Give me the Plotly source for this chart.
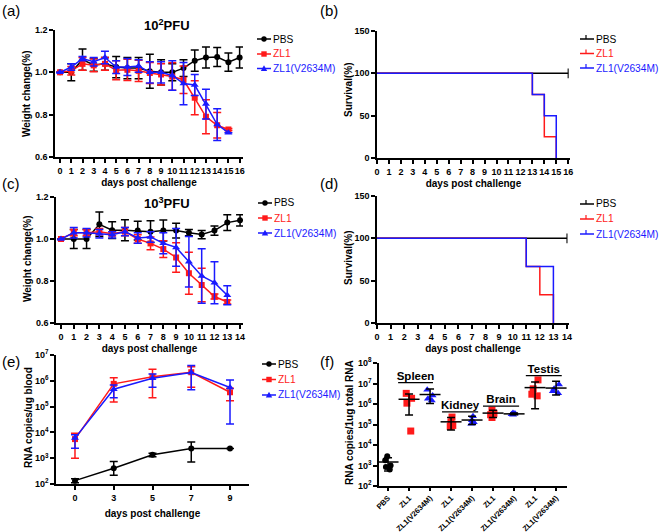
import plotly.graph_objects as go

W, H = 660, 532
FONT = "Liberation Sans, Arial, sans-serif"
RED = "#ff1a1a"
BLUE = "#1a1aff"
BLACK = "#000000"

# ---------------- (a) weight change, 10^2 PFU ----------------
days_a_pbs = list(range(17))
pbs_a = [1.00, 1.00, 1.06, 1.035, 1.04, 1.025, 1.02, 1.02, 1.005, 1.00, 1.00, 1.02, 1.055, 1.07, 1.072, 1.048, 1.07]
pbs_a_sd = [0.0, 0.04, 0.05, 0.03, 0.03, 0.05, 0.05, 0.05, 0.08, 0.06, 0.04, 0.04, 0.05, 0.05, 0.045, 0.043, 0.05]
days_a_inf = list(range(16))
zl1_a = [1.00, 1.007, 1.04, 1.033, 1.04, 1.01, 1.012, 1.007, 0.997, 0.99, 0.98, 0.965, 0.88, 0.79, 0.75, 0.73]
zl1_a_sd = [0.0, 0.02, 0.03, 0.03, 0.03, 0.045, 0.05, 0.05, 0.05, 0.05, 0.065, 0.065, 0.08, 0.08, 0.06, 0.005]
v_a = [1.00, 1.025, 1.065, 1.05, 1.07, 1.025, 1.025, 1.03, 1.0, 1.0, 0.985, 0.947, 0.94, 0.85, 0.753, 0.715]
v_a_sd = [0.0, 0.015, 0.01, 0.02, 0.03, 0.03, 0.04, 0.03, 0.05, 0.05, 0.07, 0.1, 0.05, 0.07, 0.075, 0.0]

# ---------------- (b) survival, 10^2 PFU ----------------
surv_b_pbs_days = [0, 16]
surv_b_pbs = [100, 100]
surv_b_zl1_days = [0, 13, 14, 15]
surv_b_zl1 = [100, 75, 25, 0]
surv_b_v_days = [0, 13, 14, 15]
surv_b_v = [100, 75, 50, 0]

# ---------------- (c) weight change, 10^3 PFU ----------------
days_c_pbs = list(range(15))
pbs_c = [1.0, 1.0, 1.0, 1.07, 1.042, 1.042, 1.04, 1.035, 1.04, 1.04, 1.03, 1.021, 1.04, 1.078, 1.089]
pbs_c_sd = [0.0, 0.045, 0.045, 0.058, 0.04, 0.05, 0.045, 0.052, 0.05, 0.035, 0.015, 0.02, 0.022, 0.037, 0.027]
days_c_inf = list(range(14))
zl1_c = [1.0, 1.03, 1.03, 1.035, 1.025, 1.035, 1.0, 0.979, 0.952, 0.912, 0.837, 0.781, 0.726, 0.70]
zl1_c_sd = [0.0, 0.015, 0.015, 0.015, 0.01, 0.02, 0.02, 0.03, 0.04, 0.07, 0.1, 0.08, 0.012, 0.01]
v_c = [1.0, 1.03, 1.03, 1.025, 1.02, 1.035, 1.005, 1.01, 0.98, 0.96, 0.892, 0.824, 0.792, 0.732]
v_c_sd = [0.0, 0.025, 0.02, 0.02, 0.015, 0.02, 0.025, 0.025, 0.05, 0.09, 0.12, 0.13, 0.1, 0.045]

# ---------------- (d) survival, 10^3 PFU ----------------
surv_d_pbs_days = [0, 14]
surv_d_pbs = [100, 100]
surv_d_zl1_days = [0, 11, 12, 13]
surv_d_zl1 = [100, 66.7, 33.3, 0]
surv_d_v_days = [0, 11, 13]
surv_d_v = [100, 66.7, 0]

# ---------------- (e) RNA copies in blood ----------------
days_e = ["0", "3", "5", "7", "9"]
pbs_e = [135, 410, 1350, 2400, 2400]
pbs_e_hi = [160, 740, 1550, 4200, 2400]
pbs_e_lo = [112, 220, 1150, 720, 2400]
zl1_e = [5500, 7.6e5, 1.45e6, 2.15e6, 3.6e5]
zl1_e_hi = [9300, 1.3e6, 2.8e6, 3.5e6, 5.2e5]
zl1_e_lo = [1000, 1.5e5, 2.2e5, 5.6e5, 1.7e5]
v_e = [6000, 4.7e5, 1.25e6, 2.1e6, 5.5e5]
v_e_hi = [8100, 6.9e5, 1.85e6, 3.9e6, 1.07e6]
v_e_lo = [2450, 2.2e5, 5.6e5, 4.5e5, 2.1e4]

# ---------------- (f) RNA copies in tissues ----------------
f_labels = ["PBS", "ZL1", "ZL1(V2634M)", "ZL1", "ZL1(V2634M)", "ZL1", "ZL1(V2634M)", "ZL1", "ZL1(V2634M)"]
tissues = ["Spleen", "Kidney", "Brain", "Testis"]
pbs_f = [2800, 1800, 1000, 850, 630]
zl1_f = [[3.3e6, 1.9e6, 1.1e6, 4.8e4],
         [2.3e5, 1.3e5, 9.0e4, 8.0e4],
         [5.0e5, 3.5e5, 3.0e5, 2.2e5],
         [1.5e7, 5.5e6, 3.0e6, 2.5e6]]
v_f = [[5.0e6, 2.6e6, 1.8e6, 1.5e6],
       [2.5e5, 1.6e5, 1.3e5, 1.1e5],
       [3.6e5, 3.4e5, 3.2e5, 3.0e5],
       [9.0e6, 5.5e6, 4.2e6, 3.3e6]]
f_mean = [1480, 1.7e6, 2.9e6, 1.35e5, 1.65e5, 3.6e5, 3.3e5, 6.3e6, 6.0e6]
f_hi = [2400, 3.1e6, 5.4e6, 2.2e5, 2.5e5, 4.9e5, 3.6e5, 1.2e7, 1.3e7]
f_lo = [540, 2.9e5, 1.07e6, 5.4e4, 1.0e5, 2.2e5, 3.0e5, 5.8e5, 2.75e6]
tissue_bar_x = [[0.48, 2.14], [2.57, 4.29], [4.52, 6.24], [6.56, 8.27]]
tissue_bar_y = [1.1e7, 4.1e5, 7.9e5, 2.4e7]

series_names = ["PBS", "ZL1", "ZL1(V2634M)"]
series_colors = [BLACK, RED, BLUE]


def px_x(p):
    return p / W


def px_y(p):
    return 1 - p / H


fig = go.Figure()


def err(sd, color):
    return dict(type="data", array=sd, color=color, thickness=1.5, width=4, visible=True)


def weight_traces(xa, ya, xp, yp, sdp, xi, yz, sdz, yv, sdv):
    fig.add_trace(go.Scatter(x=xp, y=yp, mode="lines+markers", name=series_names[0],
                             line=dict(color=BLACK, width=1.5), marker=dict(symbol="circle", size=6, color=BLACK),
                             error_y=err(sdp, BLACK), xaxis=xa, yaxis=ya))
    fig.add_trace(go.Scatter(x=xi, y=yz, mode="lines+markers", name=series_names[1],
                             line=dict(color=RED, width=1.5), marker=dict(symbol="square", size=6, color=RED),
                             error_y=err(sdz, RED), xaxis=xa, yaxis=ya))
    fig.add_trace(go.Scatter(x=xi, y=yv, mode="lines+markers", name=series_names[2],
                             line=dict(color=BLUE, width=1.5), marker=dict(symbol="triangle-up", size=7, color=BLUE),
                             error_y=err(sdv, BLUE), xaxis=xa, yaxis=ya))


def survival_traces(xa, ya, xp, yp, xz, yz, xv, yv):
    fig.add_trace(go.Scatter(x=xp, y=yp, mode="lines+markers", name=series_names[0],
                             line=dict(color=BLACK, width=1.5, shape="hv"),
                             marker=dict(symbol="line-ns", size=[0, 7], line=dict(color=BLACK, width=1.5)),
                             xaxis=xa, yaxis=ya))
    fig.add_trace(go.Scatter(x=xz, y=yz, mode="lines", name=series_names[1],
                             line=dict(color=RED, width=1.5, shape="hv"), xaxis=xa, yaxis=ya))
    fig.add_trace(go.Scatter(x=xv, y=yv, mode="lines", name=series_names[2],
                             line=dict(color=BLUE, width=1.5, shape="hv"), xaxis=xa, yaxis=ya))


weight_traces("x", "y", days_a_pbs, pbs_a, pbs_a_sd, days_a_inf, zl1_a, zl1_a_sd, v_a, v_a_sd)
survival_traces("x2", "y2", surv_b_pbs_days, surv_b_pbs, surv_b_zl1_days, surv_b_zl1, surv_b_v_days, surv_b_v)
weight_traces("x3", "y3", days_c_pbs, pbs_c, pbs_c_sd, days_c_inf, zl1_c, zl1_c_sd, v_c, v_c_sd)
survival_traces("x4", "y4", surv_d_pbs_days, surv_d_pbs, surv_d_zl1_days, surv_d_zl1, surv_d_v_days, surv_d_v)


# (e)
def asym(mean, hi, lo, color):
    return dict(type="data", symmetric=False,
                array=[h - m for h, m in zip(hi, mean)],
                arrayminus=[m - l for m, l in zip(mean, lo)],
                color=color, thickness=1.5, width=4)


fig.add_trace(go.Scatter(x=days_e, y=pbs_e, mode="lines+markers", name=series_names[0],
                         line=dict(color=BLACK, width=1.5), marker=dict(symbol="circle", size=6, color=BLACK),
                         error_y=asym(pbs_e, pbs_e_hi, pbs_e_lo, BLACK), xaxis="x5", yaxis="y5"))
fig.add_trace(go.Scatter(x=days_e, y=zl1_e, mode="lines+markers", name=series_names[1],
                         line=dict(color=RED, width=1.5), marker=dict(symbol="square", size=6, color=RED),
                         error_y=asym(zl1_e, zl1_e_hi, zl1_e_lo, RED), xaxis="x5", yaxis="y5"))
fig.add_trace(go.Scatter(x=days_e, y=v_e, mode="lines+markers", name=series_names[2],
                         line=dict(color=BLUE, width=1.5), marker=dict(symbol="triangle-up", size=7, color=BLUE),
                         error_y=asym(v_e, v_e_hi, v_e_lo, BLUE), xaxis="x5", yaxis="y5"))

# (f) individual points
pbs_x = [0] * len(pbs_f)
zl1_x, zl1_y, v_x, v_y = [], [], [], []
for i, (zs, vs) in enumerate(zip(zl1_f, v_f)):
    zl1_x += [1 + 2 * i] * len(zs)
    zl1_y += zs
    v_x += [2 + 2 * i] * len(vs)
    v_y += vs


def points(xs, ys, color, symbol, size):
    fig.add_trace(go.Box(x=xs, y=ys, boxpoints="all", jitter=0.7, pointpos=0, width=0.45,
                         fillcolor="rgba(0,0,0,0)", line=dict(color="rgba(0,0,0,0)", width=0),
                         whiskerwidth=0, marker=dict(color=color, symbol=symbol, size=size),
                         hoverinfo="skip", xaxis="x6", yaxis="y6"))


points(pbs_x, pbs_f, BLACK, "circle", 6)
points(zl1_x, zl1_y, RED, "square", 7)
points(v_x, v_y, BLUE, "triangle-up", 7)

fig.add_trace(go.Scatter(x=list(range(len(f_labels))), y=f_mean, mode="markers",
                         marker=dict(symbol="line-ew", size=15, color=BLACK, line=dict(color=BLACK, width=1.5)),
                         error_y=dict(type="data", symmetric=False,
                                      array=[h - m for h, m in zip(f_hi, f_mean)],
                                      arrayminus=[m - l for m, l in zip(f_mean, f_lo)],
                                      color=BLACK, thickness=1.5, width=4),
                         xaxis="x6", yaxis="y6"))

for name, bx, by in zip(tissues, tissue_bar_x, tissue_bar_y):
    fig.add_trace(go.Scatter(x=bx, y=[by, by], mode="lines", line=dict(color=BLACK, width=1.2),
                             hoverinfo="skip", xaxis="x6", yaxis="y6"))
    fig.add_trace(go.Scatter(x=[(bx[0] + bx[1]) / 2], y=[by], mode="text", text=[name],
                             textposition="top center",
                             textfont=dict(family=FONT, size=11.5, color=BLACK, weight="bold"),
                             hoverinfo="skip", xaxis="x6", yaxis="y6"))

# ---------------- axes ----------------
TICKFONT = dict(family=FONT, size=9, color=BLACK, weight="bold")
TITLEFONT = dict(family=FONT, size=10, color=BLACK, weight="bold")


def base_axis(**kw):
    d = dict(showline=True, linecolor=BLACK, linewidth=1.5, ticks="outside", ticklen=4, tickwidth=1.5,
             tickcolor=BLACK, showgrid=False, zeroline=False, tickfont=TICKFONT, mirror=False,
             fixedrange=True, automargin=False)
    d.update(kw)
    return d


def xtitle(t, s=4):
    return dict(text=t, font=TITLEFONT, standoff=s)


weight_ticks = dict(tickvals=[0.6, 0.8, 1.0, 1.2], ticktext=["0.6", "0.8", "1.0", "1.2"])
surv_ticks = dict(tickvals=[0, 50, 100, 150])

layout = dict(
    width=W, height=H, autosize=False,
    margin=dict(l=0, r=0, t=0, b=0),
    paper_bgcolor="white", plot_bgcolor="white",
    font=dict(family=FONT, color=BLACK),
    showlegend=False,
    boxmode="overlay",
    xaxis=base_axis(domain=[px_x(55), px_x(243)], range=[-0.45, 16.3], tickvals=days_a_pbs, tickangle=0,
                    title=xtitle("days post challenge"), anchor="y"),
    yaxis=base_axis(domain=[px_y(157), px_y(30)], range=[0.6, 1.2], anchor="x", **weight_ticks),
    xaxis2=base_axis(domain=[px_x(377), px_x(570)], range=[0, 16.15], tickvals=days_a_pbs, tickangle=0,
                     title=xtitle("days post challenge"), anchor="y2"),
    yaxis2=base_axis(domain=[px_y(158), px_y(31)], range=[0, 150], anchor="x2", **surv_ticks),
    xaxis3=base_axis(domain=[px_x(56), px_x(243)], range=[-0.39, 14.23], tickvals=days_c_pbs, tickangle=0,
                     title=xtitle("days post challenge"), anchor="y3"),
    yaxis3=base_axis(domain=[px_y(323), px_y(197)], range=[0.6, 1.2], anchor="x3", **weight_ticks),
    xaxis4=base_axis(domain=[px_x(377), px_x(569)], range=[0, 14.15], tickvals=days_c_pbs, tickangle=0,
                     title=xtitle("days post challenge"), anchor="y4"),
    yaxis4=base_axis(domain=[px_y(323), px_y(196)], range=[0, 150], anchor="x4", **surv_ticks),
    xaxis5=base_axis(domain=[px_x(56), px_x(249)], range=[-0.49, 4.49], type="category", tickangle=0,
                     title=xtitle("days post challenge", 8), anchor="y5"),
    yaxis5=base_axis(domain=[px_y(484), px_y(355)], type="log", range=[2, 7],
                     tickvals=[10 ** k for k in range(2, 8)],
                     ticktext=["10<sup>%d</sup>" % k for k in range(2, 8)], anchor="x5"),
    xaxis6=base_axis(domain=[px_x(379), px_x(567)], range=[-0.43, 8.52],
                     tickvals=list(range(len(f_labels))), ticktext=f_labels, tickangle=-45, ticklen=3,
                     tickfont=dict(family=FONT, size=7.6, color=BLACK, weight="bold"), anchor="y6"),
    yaxis6=base_axis(domain=[px_y(486), px_y(363)], type="log", range=[2, 8],
                     tickvals=[10 ** k for k in range(2, 9)],
                     ticktext=["10<sup>%d</sup>" % k for k in range(2, 9)], anchor="x6"),
)

anns = []
shapes = []

# panel letters
for lab, x, y in [("(a)", 0, 10), ("(b)", 318, 10), ("(c)", 0, 183), ("(d)", 318, 183), ("(e)", 0, 361),
                  ("(f)", 318, 361)]:
    anns.append(dict(text=lab, x=px_x(x), y=px_y(y), xref="paper", yref="paper", xanchor="left",
                     yanchor="middle", showarrow=False, font=dict(family=FONT, size=15, color=BLACK)))
# panel titles
for lab, x, y in [("10<sup>2</sup>PFU", 167, 25), ("10<sup>3</sup>PFU", 167, 203)]:
    anns.append(dict(text=lab, x=px_x(x), y=px_y(y), xref="paper", yref="paper", xanchor="center",
                     yanchor="middle", showarrow=False,
                     font=dict(family=FONT, size=13, color=BLACK, weight="bold")))
# y-axis titles
for lab, x, y in [("Weight change(%)", 27, 94), ("Survival(%)", 348, 90), ("Weight change(%)", 27, 259),
                  ("Survival(%)", 348, 258), ("RNA copies/ug blood", 28, 418),
                  ("RNA copies/1ug total RNA", 349, 423)]:
    anns.append(dict(text=lab, x=px_x(x), y=px_y(y), xref="paper", yref="paper", xanchor="center",
                     yanchor="middle", textangle=-90, showarrow=False, font=TITLEFONT))


# legends (drawn as layout decorations)
def add_legend(x0, ys, kind):
    symbols = ["circle", "square", "triangle"]
    for name, color, sym, y in zip(series_names, series_colors, symbols, ys):
        shapes.append(dict(type="line", xref="paper", yref="paper", x0=px_x(x0), x1=px_x(x0 + 14),
                           y0=px_y(y), y1=px_y(y), line=dict(color=color, width=1.5)))
        xc = x0 + 7
        if kind == "weight":
            if sym == "circle":
                shapes.append(dict(type="circle", xref="paper", yref="paper", x0=px_x(xc - 2.7),
                                   x1=px_x(xc + 2.7), y0=px_y(y + 2.7), y1=px_y(y - 2.7),
                                   fillcolor=color, line=dict(width=0)))
            elif sym == "square":
                shapes.append(dict(type="rect", xref="paper", yref="paper", x0=px_x(xc - 2.7),
                                   x1=px_x(xc + 2.7), y0=px_y(y + 2.7), y1=px_y(y - 2.7),
                                   fillcolor=color, line=dict(width=0)))
            else:
                path = "M %f,%f L %f,%f L %f,%f Z" % (px_x(xc - 3.2), px_y(y + 2.6), px_x(xc + 3.2),
                                                       px_y(y + 2.6), px_x(xc), px_y(y - 3.2))
                shapes.append(dict(type="path", xref="paper", yref="paper", path=path,
                                   fillcolor=color, line=dict(width=0)))
        else:
            shapes.append(dict(type="line", xref="paper", yref="paper", x0=px_x(xc - 1), x1=px_x(xc - 1),
                               y0=px_y(y), y1=px_y(y - 4), line=dict(color=color, width=1.2)))
        anns.append(dict(text=name, x=px_x(x0 + 13.5), y=px_y(y), xref="paper", yref="paper", xanchor="left",
                         yanchor="middle", showarrow=False, font=dict(family=FONT, size=10.2, color=color)))


add_legend(257, [39, 54, 68.5], "weight")
add_legend(580, [39, 53.5, 68], "surv")
add_legend(258, [203, 218, 233], "weight")
add_legend(580, [204, 219, 234], "surv")
add_legend(262, [364, 379.5, 395], "weight")

layout["annotations"] = anns
layout["shapes"] = shapes

fig.update_layout(**layout)
fig.write_html("out.html", config={"displayModeBar": False},
               post_script="document.body.style.margin='0px';")
